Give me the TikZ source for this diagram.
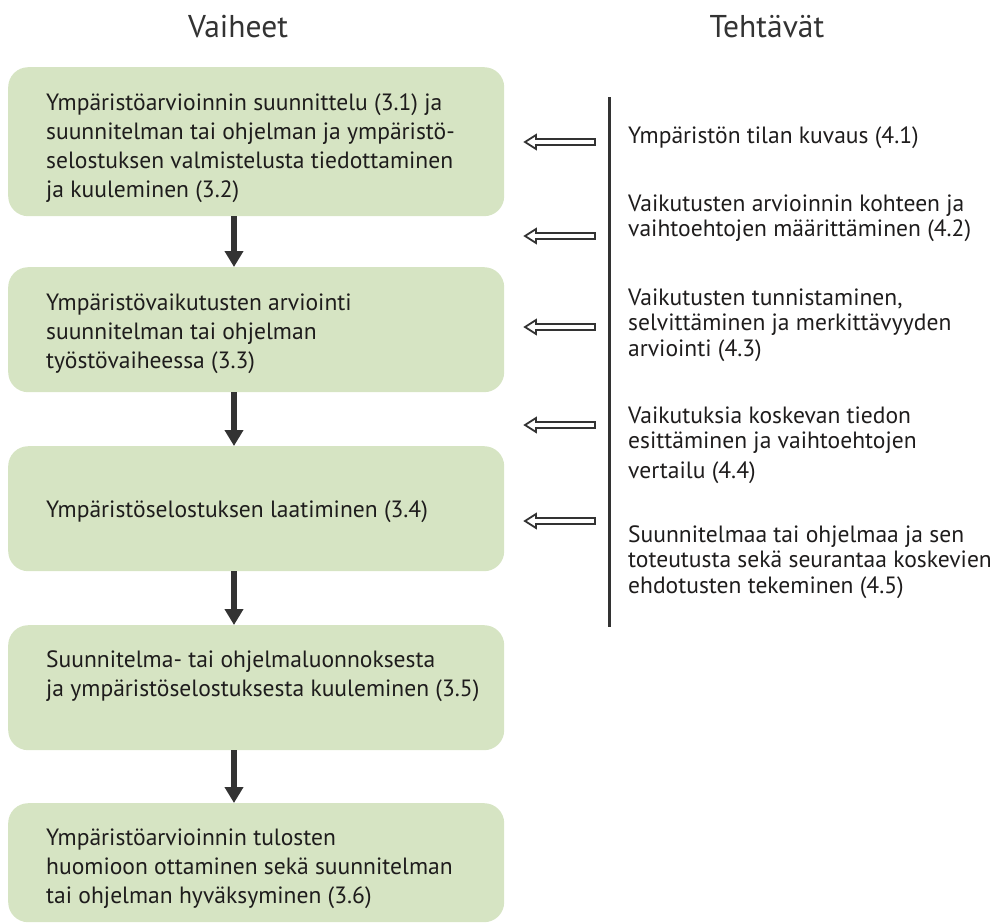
\documentclass[tikz,border=0pt]{standalone}
\usepackage{fontspec}
\setmainfont{PT Sans}
\usetikzlibrary{arrows.meta,calc}
\definecolor{boxgreen}{RGB}{214,228,195}
\definecolor{txt}{RGB}{30,28,28}
\definecolor{headtxt}{RGB}{51,51,51}
\definecolor{arrowgray}{RGB}{51,51,51}
\newlength\mylenA
\newlength\mylenB
\begin{document}
\settowidth\mylenA{\fontsize{20pt}{24pt}\selectfont selostuksen valmistelusta tiedottaminen}%
\pgfmathsetmacro\fs{20*407/\mylenA}%
\settowidth\mylenB{\fontsize{20pt}{24pt}\selectfont Vaiheet}%
\pgfmathsetmacro\hs{20*100/\mylenB}%
\begin{tikzpicture}[x=1pt,y=-1pt]
\tikzset{
  stagebox/.style={fill=boxgreen, draw=none, rounded corners=20pt, inner sep=0pt, anchor=north west},
  lefttext/.style={inner sep=0pt, anchor=north west, align=left, text=txt, font=\fontsize{\fs pt}{29pt}\selectfont},
  righttext/.style={inner sep=0pt, anchor=north west, align=left, text=txt, font=\fontsize{\fs pt}{25.5pt}\selectfont},
  heading/.style={inner sep=0pt, anchor=base, text=headtxt, font=\fontsize{\hs pt}{\hs pt}\selectfont},
  downarrow/.style={draw=arrowgray, line width=5.5pt, -{Triangle[width=18pt,length=16pt]}},
  hollow/.style={draw=arrowgray, line width=1.8pt, fill=white},
  divider/.style={draw=arrowgray, line width=3pt},
}
\useasboundingbox (0,0) rectangle (1002,924);

% headings
\node[heading] (h1) at (238,37) {Vaiheet};
\node[heading] (h2) at (767,37) {Tehtävät};

% stage boxes
\node[stagebox, minimum width=496pt, minimum height=149pt] (b1) at (8,67) {};
\node[stagebox, minimum width=496pt, minimum height=125pt] (b2) at (8,267) {};
\node[stagebox, minimum width=496pt, minimum height=125pt] (b3) at (8,446) {};
\node[stagebox, minimum width=496pt, minimum height=125pt] (b4) at (8,625) {};
\node[stagebox, minimum width=496pt, minimum height=119pt] (b5) at (8,803) {};

% stage texts
\node[lefttext] (t1) at (46,{110-20.3}) {\strut Ympäristöarvioinnin suunnittelu (3.1) ja\\suunnitelman tai ohjelman ja ympäristö-\\selostuksen valmistelusta tiedottaminen\\ja kuuleminen (3.2)};
\node[lefttext] (t2) at (46,{310-20.3}) {\strut Ympäristövaikutusten arviointi\\suunnitelman tai ohjelman\\työstövaiheessa (3.3)};
\node[lefttext] (t3) at (46,{517-20.3}) {\strut Ympäristöselostuksen laatiminen (3.4)};
\node[lefttext] (t4) at (46,{667-20.3}) {\strut Suunnitelma- tai ohjelmaluonnoksesta\\ja ympäristöselostuksesta kuuleminen (3.5)};
\node[lefttext] (t5) at (46,{845-20.3}) {\strut Ympäristöarvioinnin tulosten\\huomioon ottaminen sekä suunnitelman\\tai ohjelman hyväksyminen (3.6)};

% down arrows
\coordinate (ax) at (234,0);
\draw[downarrow] (b1.south -| ax) -- (b2.north -| ax);
\draw[downarrow] (b2.south -| ax) -- (b3.north -| ax);
\draw[downarrow] (b3.south -| ax) -- (b4.north -| ax);
\draw[downarrow] (b4.south -| ax) -- (b5.north -| ax);

% divider line
\coordinate (dtop) at (609,97);
\coordinate (dbot) at (609,627);
\draw[divider] (dtop) -- (dbot);

% task texts
\node[righttext] (r1) at (628,{143-17.85}) {\strut Ympäristön tilan kuvaus (4.1)};
\node[righttext] (r2) at (628,{211-17.85}) {\strut Vaikutusten arvioinnin kohteen ja\\vaihtoehtojen määrittäminen (4.2)};
\node[righttext] (r3) at (628,{305-17.85}) {\strut Vaikutusten tunnistaminen,\\selvittäminen ja merkittävyyden\\arviointi (4.3)};
\node[righttext] (r4) at (628,{423-17.85}) {\strut Vaikutuksia koskevan tiedon\\esittäminen ja vaihtoehtojen\\[4pt]vertailu (4.4)};
\node[righttext] (r5) at (628,{542-17.85}) {\strut Suunnitelmaa tai ohjelmaa ja sen\\toteutusta sekä seurantaa koskevien\\ehdotusten tekeminen (4.5)};

% hollow arrows
\foreach \yy in {142,236,327,425,521}{
  \draw[hollow] (525,\yy) -- (536,\yy-7) -- (536,\yy-3) -- (595,\yy-3) -- (595,\yy+3) -- (536,\yy+3) -- (536,\yy+7) -- cycle;
}
\end{tikzpicture}
\end{document}
